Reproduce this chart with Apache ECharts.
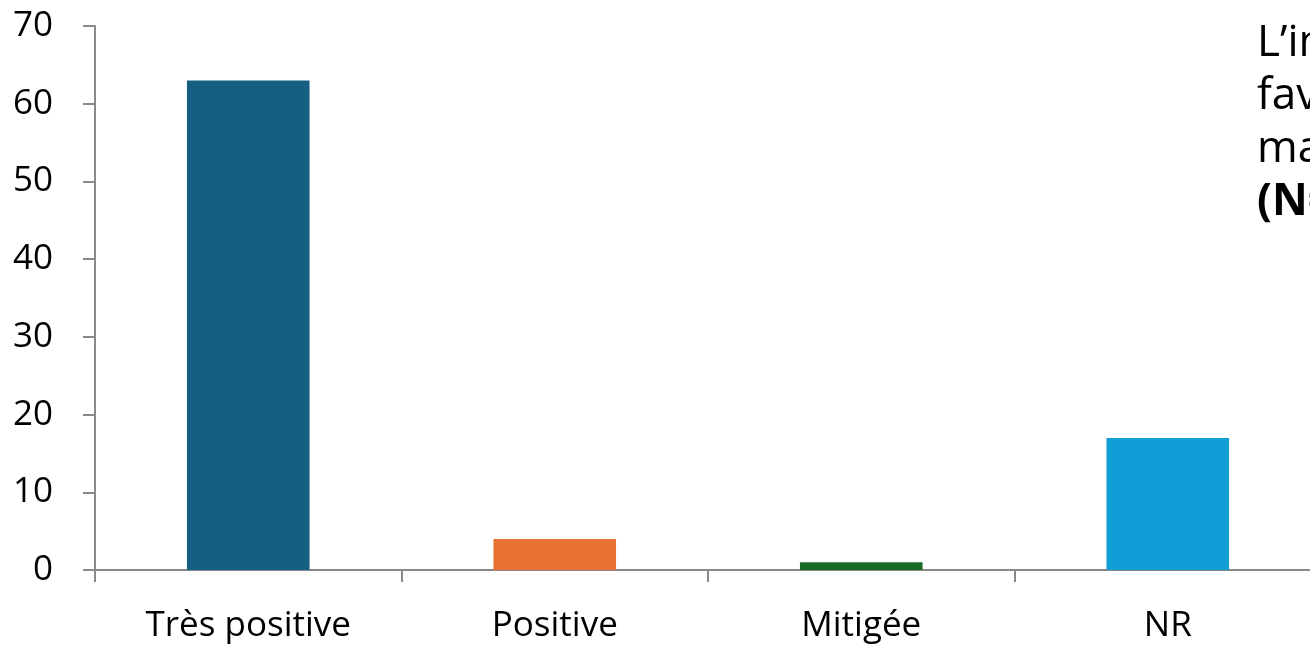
<!DOCTYPE html>
<html>
<head>
<meta charset="utf-8">
<script src="https://cdn.jsdelivr.net/npm/echarts@6/dist/echarts.min.js"></script>
<style>
html,body{margin:0;padding:0;background:#fff;overflow:hidden;width:1310px;height:647px;}
#c{width:1321px;height:647px;}
</style>
</head>
<body>
<div id="c"></div>
<script>
const categories = ["Très positive", "Positive", "Mitigée", "NR"];
const values = [63, 4, 1, 17];
const colors = ["#156082", "#E97132", "#196B24", "#0F9ED5"];
const noteLines = ["L’impression", "favorable", "majoritaire", "(N=85)"];

const chart = echarts.init(document.getElementById('c'));
const font = "'Open Sans', 'Noto Sans', sans-serif";
chart.setOption({
  animation: false,
  grid: { left: 95, top: 26, bottom: 77, right: 0, containLabel: false },
  xAxis: {
    type: 'category',
    data: categories,
    boundaryGap: true,
    axisLine: { lineStyle: { color: '#898989', width: 2 } },
    axisTick: { show: true, length: 12, lineStyle: { color: '#898989', width: 2 } },
    axisLabel: { color: '#000', fontSize: 35, fontFamily: font, margin: 39 }
  },
  yAxis: {
    type: 'value',
    min: 0, max: 70, interval: 10,
    axisLine: { show: true, lineStyle: { color: '#898989', width: 2 } },
    axisTick: { show: true, length: 12, lineStyle: { color: '#898989', width: 2 } },
    splitLine: { show: false },
    axisLabel: { color: '#000', fontSize: 35, fontFamily: font, margin: 42 }
  },
  series: [{
    type: 'bar',
    barWidth: '40%',
    data: values.map((v, i) => ({ value: v, itemStyle: { color: colors[i] } }))
  }],
  graphic: noteLines.map((t, i) => ({
    type: 'text',
    left: 1257,
    top: 21 + i * 53,
    style: {
      text: t,
      fontSize: 44,
      fontFamily: font,
      fontWeight: i === 3 ? 'bold' : 'normal',
      fill: '#000'
    }
  }))
});
</script>
</body>
</html>
